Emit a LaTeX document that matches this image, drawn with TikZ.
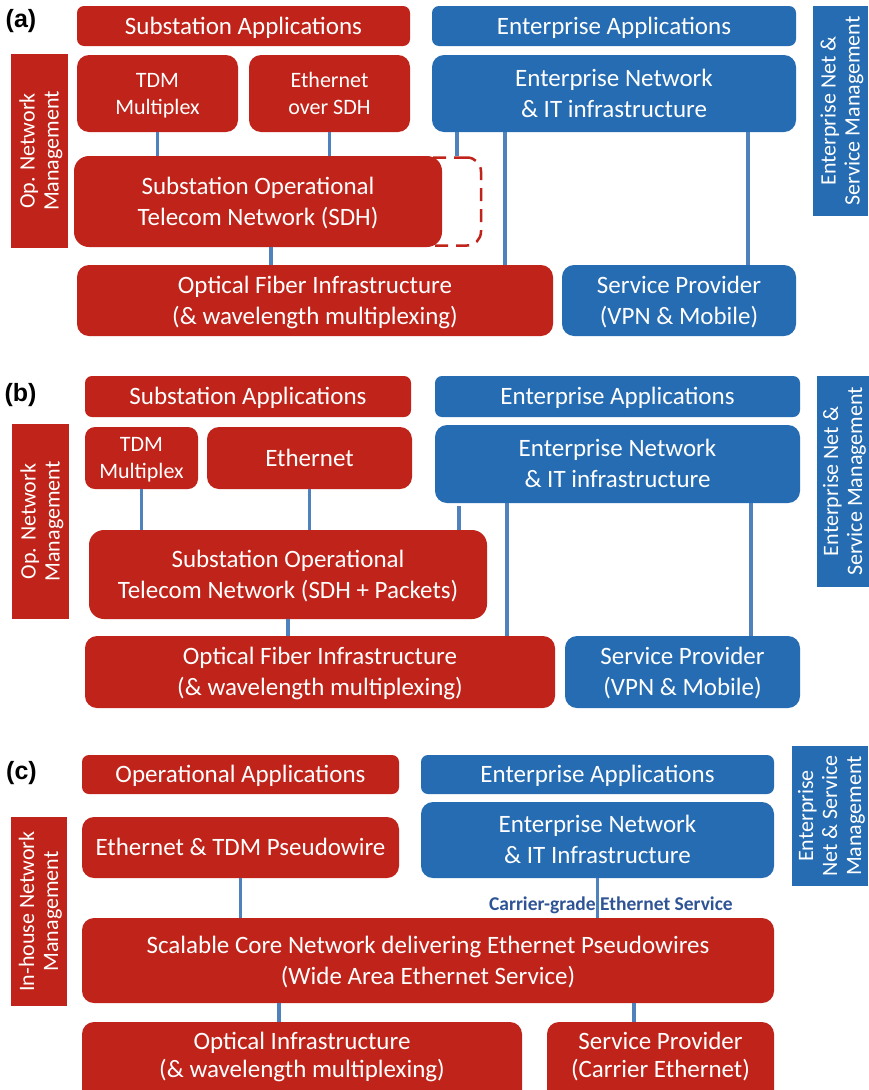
\documentclass[tikz,border=0pt]{standalone}
\usepackage{fontspec}
\setmainfont{Carlito}
\newfontfamily\tagfont{Liberation Sans}
\definecolor{opred}{RGB}{192,35,25}
\definecolor{entblue}{RGB}{38,108,178}
\definecolor{linkblue}{RGB}{79,129,189}
\definecolor{labelblue}{RGB}{47,84,150}
% centred block of lines (separated by \cr), balanced so that the
% capitals sit in the middle of the box
\newcommand\topstrut{\rule{0pt}{0.96em}}
\newcommand\botstrut{\rule[-0.32em]{0pt}{0.32em}}
\newcommand\lines[1]{\vbox{\halign{\hfil##\hfil\cr\topstrut#1\botstrut\cr}}}
\begin{document}
\begin{tikzpicture}[x=1pt,y=-1pt,
  box/.style={rounded corners=12pt, inner sep=0pt, text=white,
    font=\fontsize{25}{31}\selectfont},
  boxtext/.style={inner sep=0pt, text=white, font=\fontsize{25}{28}\selectfont},
  redbox/.style={box, fill=opred},
  bluebox/.style={box, fill=entblue},
  strip/.style={rounded corners=7pt},
  small/.style={font=\fontsize{22}{27}\selectfont},
  side/.style={inner sep=0pt, text=white, rotate=90,
    font=\fontsize{22}{24}\selectfont},
  spare/.style={draw=opred, line width=2.5pt, dash pattern=on 13pt off 8pt,
    rounded corners=14pt, inner sep=0pt},
  link/.style={draw=linkblue, line width=3.5pt},
  tag/.style={inner sep=0pt, font=\tagfont\bfseries\fontsize{25}{30}\selectfont},
  carrier/.style={inner sep=0pt, text=labelblue, font=\bfseries\fontsize{19.5}{22}\selectfont}]
\useasboundingbox[fill=white] (0,0) rectangle (868,1090);

% ---------------- (a) SDH-based operational network ----------------
\node[tag] (tagA) at (21,21) {(a)};
\node[redbox, strip, minimum width=333pt, minimum height=40pt] (subA) at (243.5,26) {\lines{Substation Applications}};
\node[bluebox, strip, minimum width=364pt, minimum height=40pt] (entAppA) at (614,26) {\lines{Enterprise Applications}};
\node[side, fill=entblue, minimum width=210pt, minimum height=55pt] (entMgtA) at (840.5,111) {\lines{Enterprise Net \&\cr Service Management}};
\node[side, fill=opred, minimum width=194pt, minimum height=57pt] (opMgtA) at (39.5,151) {\lines{Op. Network\cr Management}};
\node[redbox, small, minimum width=161pt, minimum height=77pt] (tdmA) at (157.5,93.5) {\lines{TDM\cr Multiplex}};
\node[redbox, small, minimum width=161pt, minimum height=77pt] (eosA) at (329.5,93.5) {\lines{Ethernet\cr over SDH}};
\node[bluebox, minimum width=364pt, minimum height=77pt] (entNetA) at (614,93.5) {\lines{Enterprise Network\cr \& IT infrastructure}};
% dashed outline of the spare capacity, tucked behind the SDH network box
\node[spare, minimum width=181pt, minimum height=88pt] (spareA) at (390.5,201.5) {};
\node[redbox, rounded corners=15pt, minimum width=368pt, minimum height=91pt] (sotnA) at (258,201.5) {\lines{Substation Operational\cr Telecom Network (SDH)}};
\node[redbox, minimum width=476pt, minimum height=71pt] (optA) at (315,300.5) {\lines{Optical Fiber Infrastructure\cr (\& wavelength multiplexing)}};
\node[bluebox, minimum width=234pt, minimum height=71pt] (spA) at (679,300.5) {\lines{Service Provider\cr (VPN \& Mobile)}};

\draw[link] (tdmA.south) -- (tdmA.south |- sotnA.north);
\draw[link] (eosA.south) -- (eosA.south |- sotnA.north);
\draw[link] ([xshift=25pt]entNetA.south west) -- ([xshift=25pt]entNetA.south west |- spareA.north);
\draw[link] ([xshift=73pt]entNetA.south west) -- ([xshift=73pt]entNetA.south west |- optA.north);
\draw[link] ([xshift=316pt]entNetA.south west) -- ([xshift=316pt]entNetA.south west |- spA.north);
\draw[link] ([xshift=13pt]sotnA.south) -- ([xshift=13pt]sotnA.south |- optA.north);

% ---------------- (b) SDH + packet operational network ----------------
\node[tag] (tagB) at (20.5,395) {(b)};
\node[redbox, strip, minimum width=326pt, minimum height=41pt] (subB) at (248,396.5) {\lines{Substation Applications}};
\node[bluebox, strip, minimum width=365pt, minimum height=41pt] (entAppB) at (617.5,396.5) {\lines{Enterprise Applications}};
\node[side, fill=entblue, minimum width=211pt, minimum height=50pt] (entMgtB) at (843,481.5) {\lines{Enterprise Net \&\cr Service Management}};
\node[side, fill=opred, minimum width=195pt, minimum height=57pt] (opMgtB) at (40.5,521.5) {\lines{Op. Network\cr Management}};
\node[redbox, small, rounded corners=10pt, minimum width=113pt, minimum height=62pt] (tdmB) at (141.5,458) {\lines{TDM\cr Multiplex}};
\node[redbox, minimum width=205pt, minimum height=62pt] (ethB) at (309.5,458) {\lines{Ethernet}};
\node[bluebox, minimum width=365pt, minimum height=78pt] (entNetB) at (617.5,464) {\lines{Enterprise Network\cr \& IT infrastructure}};
\node[redbox, rounded corners=15pt, minimum width=398pt, minimum height=89pt] (sotnB) at (288,574.5) {\lines{Substation Operational\cr Telecom Network (SDH + Packets)}};
\node[redbox, minimum width=470pt, minimum height=72pt] (optB) at (320,672) {\lines{Optical Fiber Infrastructure\cr (\& wavelength multiplexing)}};
\node[bluebox, minimum width=235pt, minimum height=72pt] (spB) at (682.5,672) {\lines{Service Provider\cr (VPN \& Mobile)}};

\draw[link] (tdmB.south) -- (tdmB.south |- sotnB.north);
\draw[link] (ethB.south) -- (ethB.south |- sotnB.north);
\draw[link] ([xshift=24pt,yshift=-3pt]entNetB.south west) -- ([xshift=24pt]entNetB.south west |- sotnB.north);
\draw[link] ([xshift=72pt]entNetB.south west) -- ([xshift=72pt]entNetB.south west |- optB.north);
\draw[link] ([xshift=316pt]entNetB.south west) -- ([xshift=316pt]entNetB.south west |- spB.north);
\draw[link] (sotnB.south) -- (sotnB.south |- optB.north);

% ---------------- (c) packet core network ----------------
\node[tag] (tagC) at (21.5,773.5) {(c)};
\node[redbox, strip, minimum width=317pt, minimum height=39pt] (opAppC) at (240.5,774.5) {\lines{Operational Applications}};
\node[bluebox, strip, minimum width=353pt, minimum height=39pt] (entAppC) at (597.5,774.5) {\lines{Enterprise Applications}};
\node[side, fill=entblue, minimum width=140pt, minimum height=76pt] (entMgtC) at (830,816) {\lines{Enterprise\cr Net \& Service\cr Management}};
\node[side, fill=opred, minimum width=189pt, minimum height=56pt] (inhC) at (39,911.5) {\lines{In-house Network\cr Management}};
\node[redbox, minimum width=317pt, minimum height=61pt] (pwC) at (240.5,847.5) {\lines{Ethernet \& TDM Pseudowire}};
\node[bluebox, minimum width=353pt, minimum height=76pt] (entNetC) at (597.5,840) {\lines{Enterprise Network\cr \& IT Infrastructure}};
\node[redbox, minimum width=692pt, minimum height=85pt] (coreC) at (428,960.5) {\lines{Scalable Core Network delivering Ethernet Pseudowires\cr (Wide Area Ethernet Service)}};
\node[redbox, minimum width=440pt, minimum height=80pt] (optC) at (302,1062) {};
\node[boxtext] (optCtext) at ([yshift=-34pt]optC.north) {\lines{Optical Infrastructure\cr (\& wavelength multiplexing)}};
\node[redbox, minimum width=227pt, minimum height=80pt] (spC) at (660.5,1062) {};
\node[boxtext] (spCtext) at ([yshift=-34pt]spC.north) {\lines{Service Provider\cr (Carrier Ethernet)}};

\draw[link] (pwC.south) -- (pwC.south |- coreC.north);
\draw[link] (entNetC.south) -- (entNetC.south |- coreC.north);
\draw[link] ([xshift=197pt]coreC.south west) -- ([xshift=197pt]coreC.south west |- optC.north);
\draw[link] ([xshift=552pt]coreC.south west) -- ([xshift=552pt]coreC.south west |- spC.north);
\node[carrier] (cgC) at (611,905) {Carrier-grade Ethernet Service};
\end{tikzpicture}
\end{document}
